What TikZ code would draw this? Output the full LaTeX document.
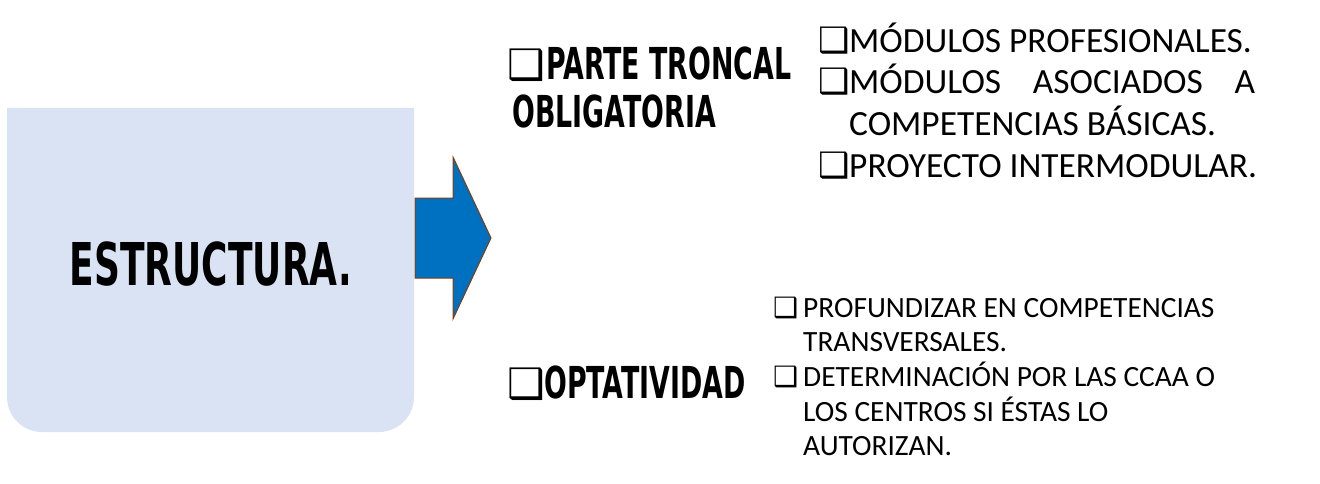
\documentclass[tikz,border=0pt]{standalone}
\usepackage{fontspec}
\setmainfont{Carlito}
\newfontfamily\symfont{DejaVu Sans}
\newfontfamily\heavyfont[FakeStretch=0.61]{DejaVu Sans}
\usetikzlibrary{positioning}
\definecolor{boxblue}{HTML}{DAE3F3}
\definecolor{arrowblue}{HTML}{0070C0}
\definecolor{arrowrim}{HTML}{843C0C}
\newcommand{\chk}{{\symfont ❑}}

\begin{document}
\begin{tikzpicture}[x=1pt,y=1pt]
	\tikzset{
		heading/.style = {font={\heavyfont\bfseries\fontsize{44}{49}\selectfont}, anchor=base west, inner sep=0pt},
		bigtitle/.style = {font={\heavyfont\bfseries\fontsize{59}{66}\selectfont}, anchor=base, inner sep=0pt},
		item/.style = {font={\fontsize{35.4}{40}\selectfont}, anchor=base west, inner sep=0pt},
		smallitem/.style = {font={\fontsize{29.4}{34}\selectfont}, anchor=base west, inner sep=0pt},
		tick/.style = {anchor=base west, inner sep=0pt},
	}
	\useasboundingbox (0,0) rectangle (1320,-484);

	% left box
	\fill[boxblue] (7,-108) -- (414,-108) -- (414,-397) arc[start angle=0, end angle=-90, radius=35]
		-- (42,-432) arc[start angle=-90, end angle=-180, radius=35] -- cycle;
	\node[bigtitle] (estructura) at (211,-285) {ESTRUCTURA.};

	% arrow
	\draw[arrowrim, fill=arrowblue, line width=1pt] (415,-198) -- (453,-198) -- (453,-157) -- (491,-238)
		-- (453,-319) -- (453,-278) -- (415,-278) -- cycle;

	% headings
	\node[tick, font={\fontsize{42}{42}\selectfont}] (tick-troncal) at (507,-80) {\chk};
	\node[heading] (troncal) at (546,-80) {PARTE TRONCAL};
	\node[heading] (obligatoria) at (512,-128) {OBLIGATORIA};
	\node[tick, font={\fontsize{42}{42}\selectfont}] (tick-opt) at (507,-398) {\chk};
	\node[heading] (optatividad) at (544,-398) {OPTATIVIDAD};

	% upper list
	\foreach \x/\y in {1/53, 2/94, 4/178}
		{
			\node[tick, font={\fontsize{35}{35}\selectfont}] (tick-m\x) at (818,-\y) {\chk};
		}
	\node[item] (m1) at (849,-53) {MÓDULOS PROFESIONALES.};
	\node[item] (m2) at (849,-94) {\hbox to 406pt{MÓDULOS\hfill ASOCIADOS\hfill A}};
	\node[item] (m3) at (849,-136) {COMPETENCIAS BÁSICAS.};
	\node[item] (m4) at (849,-178) {PROYECTO INTERMODULAR.};

	% lower list
	\foreach \x/\y in {1/317, 3/386}
		{
			\node[tick, font={\fontsize{28}{28}\selectfont}] (tick-p\x) at (773,-\y) {\chk};
		}
	\node[smallitem] (p1) at (803,-317) {PROFUNDIZAR EN COMPETENCIAS};
	\node[smallitem] (p2) at (803,-351) {TRANSVERSALES.};
	\node[smallitem] (p3) at (803,-386) {DETERMINACIÓN POR LAS CCAA O};
	\node[smallitem] (p4) at (803,-421) {LOS CENTROS SI ÉSTAS LO};
	\node[smallitem] (p5) at (803,-455) {AUTORIZAN.};
\end{tikzpicture}
\end{document}
